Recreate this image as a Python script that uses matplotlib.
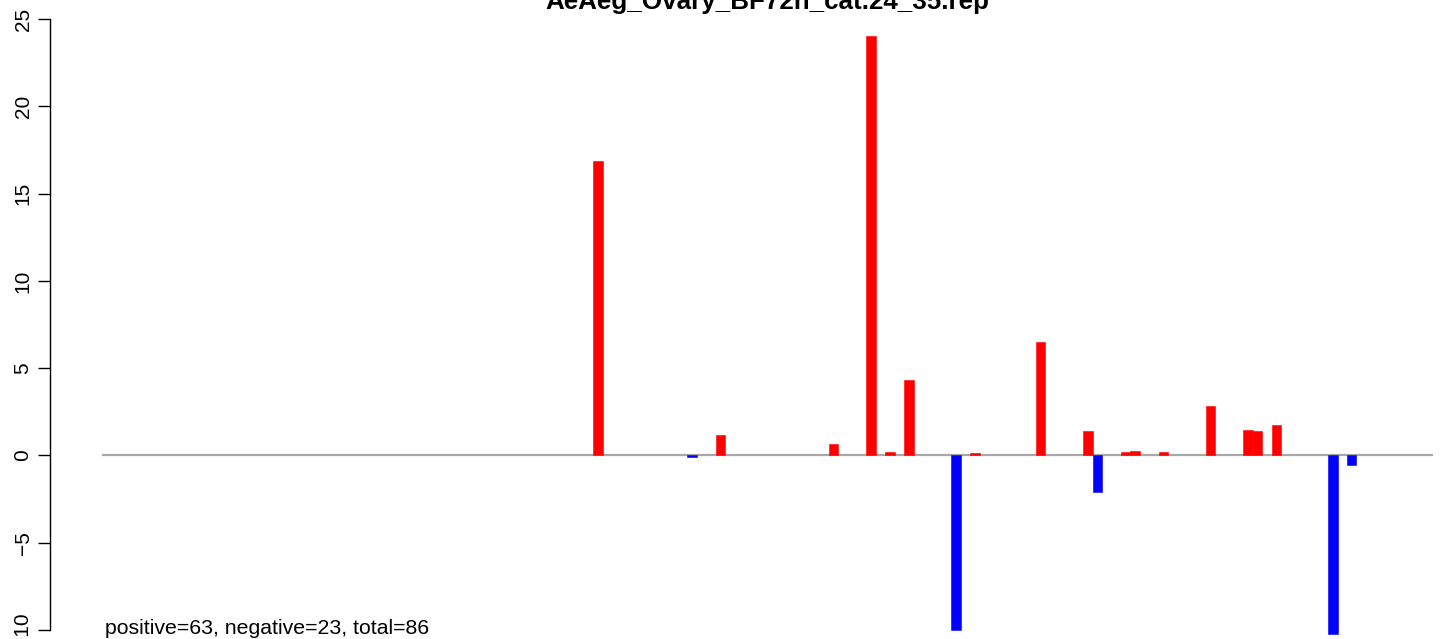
import numpy as np
import matplotlib
matplotlib.use('Agg')
import matplotlib.pyplot as plt

plt.rcParams['font.family'] = ['Liberation Sans', 'DejaVu Sans']

title = 'AeAeg_Ovary_BF72h_cat.24_35.rep'
summary = 'positive=63, negative=23, total=86'

n_bins = 141
# bin index of each visible bar and its value
bar_bins = [52, 62, 65, 77, 81, 83, 85, 90, 92, 99, 104, 105,
            108, 109, 112, 117, 121, 122, 124, 130, 132]
bar_vals = [16.87, -0.10, 1.17, 0.66, 24.03, 0.20, 4.32, -10.0, 0.14, 6.50, 1.40, -2.09,
            0.20, 0.26, 0.20, 2.83, 1.46, 1.40, 1.75, -10.22, -0.53]

values = np.zeros(n_bins)
values[bar_bins] = bar_vals
colors = ['red' if v > 0 else ('blue' if v < 0 else 'none') for v in values]

W, H = 1441, 639
fig = plt.figure(figsize=(W / 100, H / 100), dpi=100)

# plot region (R style, 4% padding); right side runs past the image edge
ax = fig.add_axes([50 / W, 0, 1435 / W, 1])
x = np.arange(n_bins) + 0.5
ax.plot([0, n_bins], [0, 0], color='#a8a8a8', lw=1.6, zorder=1)
ax.bar(x, values, width=1.0, color=colors, edgecolor=colors, linewidth=0.4, zorder=2)

ax.set_xlim(-0.04 * n_bins, 1.04 * n_bins)
unit = 611 / 35
ax.set_ylim(-10 - 9 / unit, 25 + 19 / unit)

for s in ['top', 'right', 'bottom']:
    ax.spines[s].set_visible(False)
ax.spines['left'].set_bounds(-10, 25)
ax.spines['left'].set_linewidth(1.0)
ax.set_xticks([])
ax.set_yticks([-10, -5, 0, 5, 10, 15, 20, 25])
ax.set_yticklabels(['\u221210', '\u22125', '0', '5', '10', '15', '20', '25'],
                   rotation=90, va='center', fontsize=15)
ax.tick_params(axis='y', length=8.6, width=1.0, pad=4)

ax.text(0.2, -10.25, summary, ha='left', va='baseline', fontsize=15.3)

fig.text((50 + 1435 / 2) / W, 1 - 9.5 / H, title, ha='center', va='baseline',
         fontsize=18.7, fontweight='bold')

fig.savefig('out.png', dpi=100)
